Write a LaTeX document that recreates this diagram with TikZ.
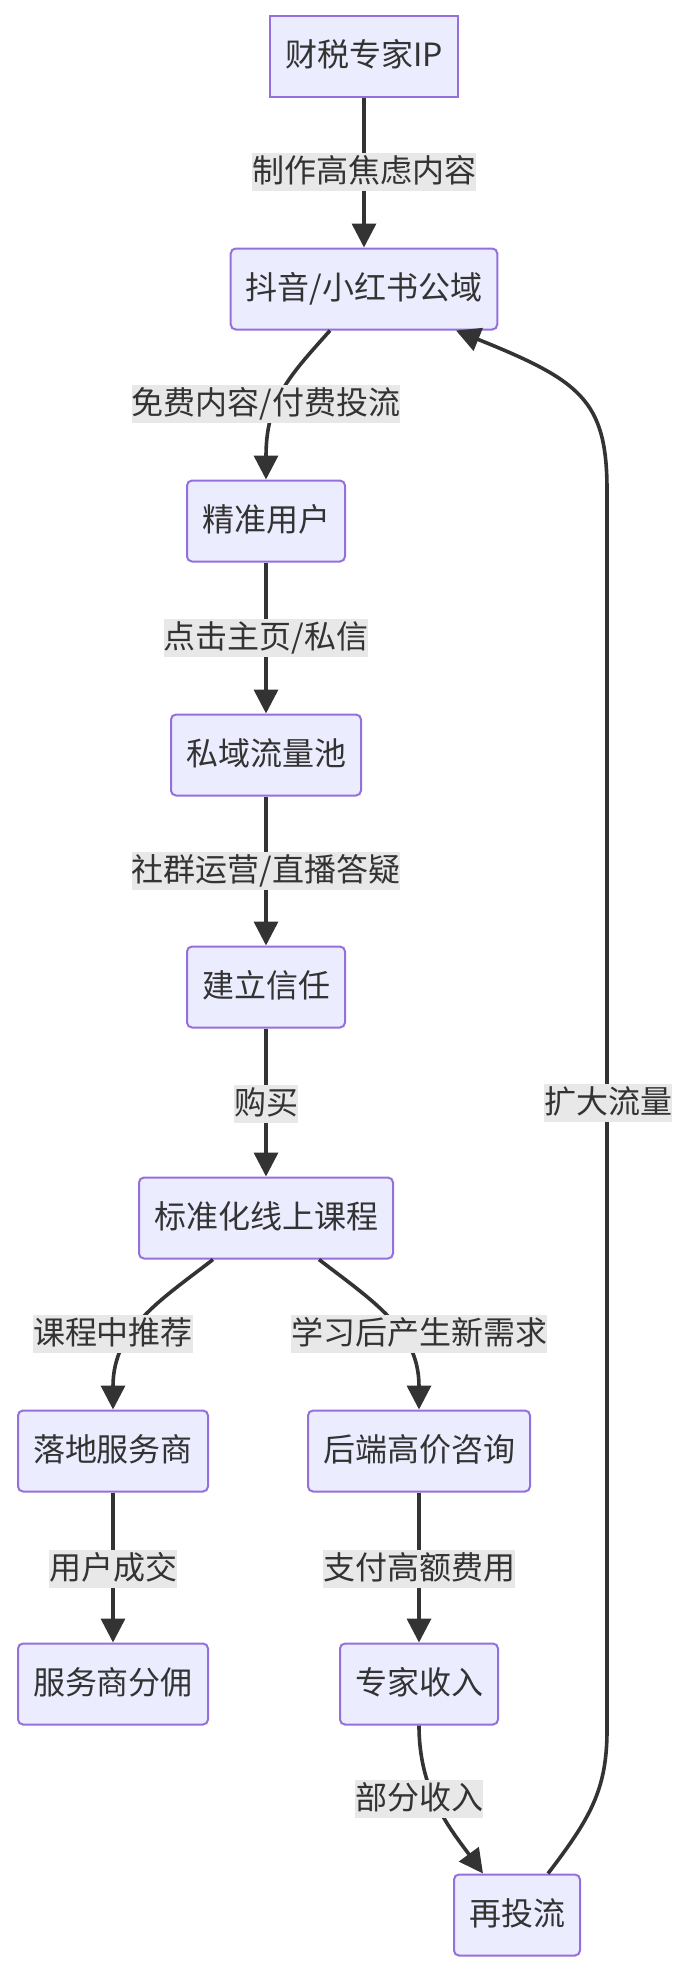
\documentclass[tikz,border=0pt]{standalone}
\usepackage{fontspec}
\setmainfont{Noto Sans CJK SC}
\usetikzlibrary{arrows.meta}
\definecolor{nodefill}{HTML}{ECECFF}
\definecolor{nodeline}{HTML}{9370DB}
\definecolor{edgecol}{HTML}{333333}
\definecolor{lblbg}{HTML}{E8E8E8}
\definecolor{txt}{HTML}{333333}
\begin{document}
\begin{tikzpicture}[x=1pt,y=-1pt,
  box/.style={draw=nodeline, fill=nodefill, line width=2pt, rounded corners=5pt,
    inner xsep=15pt, inner ysep=0pt, minimum height=81pt, text=txt,
    font=\fontsize{32pt}{38pt}\selectfont, text height=25pt, text depth=5pt},
  sqbox/.style={box, sharp corners},
  lbl/.style={fill=lblbg, inner sep=0pt, minimum height=38pt, text=txt,
    font=\fontsize{32pt}{38pt}\selectfont, text height=25pt, text depth=5pt},
  edge/.style={draw=edgecol, line width=3.6pt, -{Triangle[length=24pt,width=24pt]}}]
\useasboundingbox (0,0) rectangle (688,1974);
% nodes
\node[sqbox] (ip) at (364,56) {财税专家IP};
\node[box] (dy) at (364,289) {抖音/小红书公域};
\node[box] (jz) at (266,521) {精准用户};
\node[box] (sy) at (266,755) {私域流量池};
\node[box] (xr) at (266,987) {建立信任};
\node[box] (kc) at (266,1218) {标准化线上课程};
\node[box] (ld) at (113,1451) {落地服务商};
\node[box] (hd) at (419,1451) {后端高价咨询};
\node[box] (fy) at (113,1684) {服务商分佣};
\node[box] (zj) at (419,1684) {专家收入};
\node[box] (tl) at (517,1915) {再投流};
% coordinates for loop
\coordinate (lpa) at (607,1730);
\coordinate (lpb) at (607,490);
% edges
\draw[edge] (ip) -- (dy);
\draw[edge] ([xshift=-34pt]dy.south) .. controls +(-40,45) and +(0,-80) .. (jz.north);
\draw[edge] (jz) -- (sy);
\draw[edge] (sy) -- (xr);
\draw[edge] (xr) -- (kc);
\draw[edge] ([xshift=-53pt]kc.south) .. controls +(-53,41) and +(0,-80) .. (ld.north);
\draw[edge] ([xshift=53pt]kc.south) .. controls +(53,41) and +(0,-80) .. (hd.north);
\draw[edge] (ld) -- (fy);
\draw[edge] (hd) -- (zj);
\draw[edge] (zj.south) .. controls +(0,66) and +(-33,-45) .. ([xshift=-34pt]tl.north);
\draw[edge] ([xshift=31pt]tl.north) .. controls +(42,-55) and +(0,60) .. (lpa) -- (lpb)
  .. controls +(0,-90) and +(124,50) .. ([xshift=92pt]dy.south);
% labels
\node[lbl] (l1) at (364,172) {制作高焦虑内容};
\node[lbl] (l2) at (266,404) {免费内容/付费投流};
\node[lbl] (l3) at (266,638) {点击主页/私信};
\node[lbl] (l4) at (266,871) {社群运营/直播答疑};
\node[lbl] (l5) at (266,1104) {购买};
\node[lbl] (l6) at (113,1334) {课程中推荐};
\node[lbl] (l7) at (419,1334) {学习后产生新需求};
\node[lbl] (l8) at (113,1569) {用户成交};
\node[lbl] (l9) at (419,1569) {支付高额费用};
\node[lbl] (l10) at (419,1799) {部分收入};
\node[lbl] (l11) at (608,1103) {扩大流量};
\end{tikzpicture}
\end{document}
